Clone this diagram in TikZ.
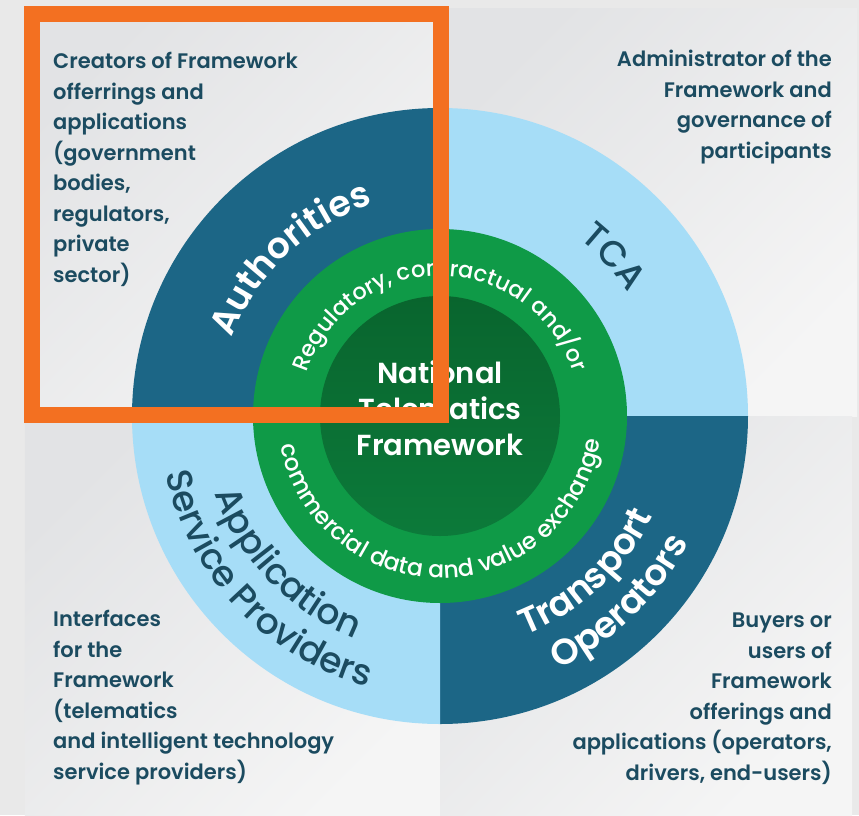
\documentclass[tikz,border=0pt]{standalone}
\usepackage{fontspec}
\setmainfont{Poppins}
\newfontfamily\pmed{Poppins Medium}
\newfontfamily\psemi{Poppins SemiBold}
\usetikzlibrary{decorations.text}
\definecolor{bgc}{HTML}{E9E9E9}
\definecolor{panA}{HTML}{E2E3E5}
\definecolor{panB}{HTML}{F5F5F5}
\definecolor{dblue}{HTML}{1C6686}
\definecolor{lblue}{HTML}{A6DDF7}
\definecolor{rgreen}{HTML}{0F9A47}
\definecolor{dgreenA}{HTML}{09652E}
\definecolor{dgreenB}{HTML}{0C7A3A}
\definecolor{tblue}{HTML}{1B4B60}
\definecolor{oframe}{HTML}{F37021}
\newcommand{\cornerfont}{\psemi\fontsize{21}{30.5}\selectfont}
\newcommand{\ringW}{\psemi\fontsize{36}{42}\selectfont\color{white}}
\newcommand{\ringD}{\pmed\fontsize{36}{42}\selectfont\color{tblue}}
\newcommand{\greenT}{\pmed\fontsize{22.5}{25}\selectfont\color{white}}
\newcommand{\greenB}{\pmed\fontsize{23.5}{25}\selectfont\color{white}}
\tikzset{
  corner/.style={inner sep=0pt, text=tblue, font=\cornerfont},
  panel/.style={shading=axis, top color=panA, bottom color=panB, shading angle=45},
  arctext/.style={decorate, decoration={text along path, text align=center, text={#1}}}
}
\begin{document}
\begin{tikzpicture}[x=1pt,y=1pt]
\useasboundingbox (-440,-399) rectangle (419,416);
\fill[bgc] (-440,-399) rectangle (419,416);
% panels
\shade[panel] (-415,0) rectangle (0,407);
\shade[panel] (0,0) rectangle (417,407);
\shade[panel] (-415,-399) rectangle (0,0);
\shade[panel] (0,-399) rectangle (412,0);
% outer ring quadrants
\fill[dblue] (0,0) -- (180:308) arc[start angle=180, end angle=90, radius=308] -- cycle;
\fill[lblue] (0,0) -- (90:308) arc[start angle=90, end angle=0, radius=308] -- cycle;
\fill[dblue] (0,0) -- (0:308) arc[start angle=0, end angle=-90, radius=308] -- cycle;
\fill[lblue] (0,0) -- (-90:308) arc[start angle=-90, end angle=-180, radius=308] -- cycle;
% green rings
\fill[rgreen] (0,0) circle[radius=187];
\shade[top color=dgreenA, bottom color=dgreenB] (0,0) circle[radius=120];
% ring labels
\path[arctext={|\ringW|Authorities}] (175:222) arc[start angle=175, end angle=92, radius=222];
\path[arctext={|\ringD|TCA}] (80:225) arc[start angle=80, end angle=5, radius=225];
\path[arctext={|\ringD|Application}] (184:238) arc[start angle=184, end angle=264, radius=238];
\path[arctext={|\ringD|Service Providers}] (180:280) arc[start angle=180, end angle=267, radius=280];
\path[arctext={|\ringW|Transport}] (273:235) arc[start angle=273, end angle=353, radius=235];
\path[arctext={|\ringW|Operators}] (274:279) arc[start angle=274, end angle=354, radius=279];
% green ring text
\path[arctext={|\greenT|Regulatory, contractual and/or}] (178:140) arc[start angle=178, end angle=2, radius=140];
\path[arctext={|\greenB|commercial data and value exchange}] (182:162) arc[start angle=182, end angle=360, radius=162];
% centre
\node[inner sep=0pt, text=white, align=center, font=\psemi\fontsize{29}{36}\selectfont] (ntf) at (0,8) {National\\Telematics\\Framework};
% corner texts
\node[corner, anchor=north west, align=left] (tl) at (-387,364) {Creators of Framework\\offerrings and\\applications\\(government\\bodies,\\regulators,\\private\\sector)};
\node[corner, anchor=north east, align=right] (tr) at (392,366) {Administrator of the\\Framework and\\governance of\\participants};
\node[corner, anchor=north west, align=left] (bl) at (-387,-194) {Interfaces\\for the\\Framework\\(telematics\\and intelligent technology\\service providers)};
\node[corner, anchor=north east, align=right] (br) at (392,-197) {Buyers or\\users of\\Framework\\offerings and\\applications (operators,\\drivers, end-users)};
% orange highlight frame
\draw[oframe, line width=16pt] (-408,402) rectangle (1,1);
\end{tikzpicture}
\end{document}
